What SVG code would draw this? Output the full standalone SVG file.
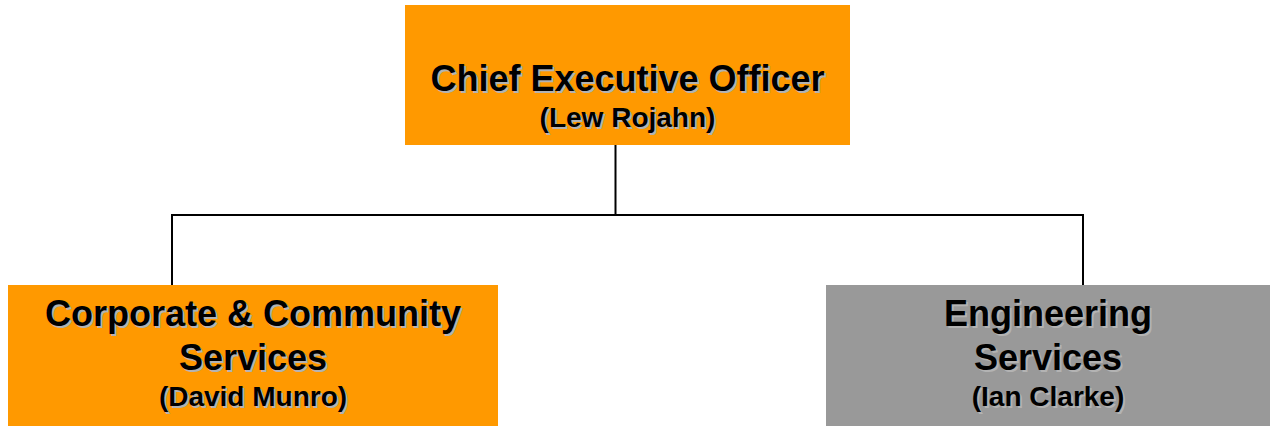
<svg xmlns="http://www.w3.org/2000/svg" width="1275" height="426" viewBox="0 0 1275 426">
<style>
.t{font-family:"Liberation Sans",Arial,sans-serif;font-weight:bold;text-anchor:middle;}
.h{font-size:36px;}
.s{font-size:28px;}
.sh{fill:#b3b3b3;}
.fg{fill:#000;}
.org{fill:#FF9900;}
.gry{fill:#999999;}
.conn{stroke:#000;stroke-width:2;fill:none;}
</style>
<rect width="1275" height="426" fill="#fff"/>
<g id="connectors">
<path class="conn" d="M615.5 145 V215 M172 285 V215 H1083 V285"/>
</g>
<g id="ceo">
<rect class="org" x="405" y="5" width="445" height="140"/>
<g class="t sh" transform="translate(2,2)">
<text class="h" x="627.5" y="91">Chief Executive Officer</text>
<text class="s" x="627.5" y="127">(Lew Rojahn)</text>
</g>
<g class="t fg">
<text class="h" x="627.5" y="91">Chief Executive Officer</text>
<text class="s" x="627.5" y="127">(Lew Rojahn)</text>
</g>
</g>
<g id="corporate">
<rect class="org" x="8" y="285" width="490" height="141"/>
<g class="t sh" transform="translate(2,2)">
<text class="h" x="253" y="326">Corporate &amp; Community</text>
<text class="h" x="253" y="370">Services</text>
<text class="s" x="253" y="406">(David Munro)</text>
</g>
<g class="t fg">
<text class="h" x="253" y="326">Corporate &amp; Community</text>
<text class="h" x="253" y="370">Services</text>
<text class="s" x="253" y="406">(David Munro)</text>
</g>
</g>
<g id="engineering">
<rect class="gry" x="826" y="285" width="444" height="141"/>
<g class="t sh" transform="translate(2,2)">
<text class="h" x="1048" y="326">Engineering</text>
<text class="h" x="1048" y="370">Services</text>
<text class="s" x="1048" y="406">(Ian Clarke)</text>
</g>
<g class="t fg">
<text class="h" x="1048" y="326">Engineering</text>
<text class="h" x="1048" y="370">Services</text>
<text class="s" x="1048" y="406">(Ian Clarke)</text>
</g>
</g>
</svg>
